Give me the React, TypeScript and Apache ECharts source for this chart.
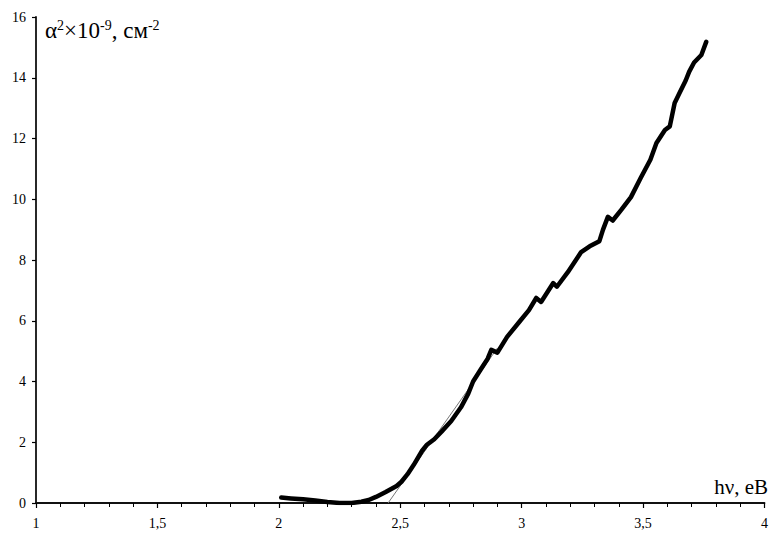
import React, { useEffect, useRef } from "react";
import * as echarts from "echarts";

const energy = [
  2.01, 2.05, 2.1, 2.15, 2.2, 2.25, 2.3, 2.34, 2.37, 2.4, 2.44, 2.485, 2.505, 2.53, 2.555, 2.59, 2.61,
  2.64, 2.67, 2.71, 2.75, 2.78, 2.8, 2.83, 2.86, 2.875, 2.9, 2.94, 2.99, 3.03, 3.06, 3.08, 3.13, 3.145,
  3.19, 3.245, 3.28, 3.32, 3.335, 3.355, 3.375, 3.41, 3.45, 3.49, 3.53, 3.555, 3.59, 3.61, 3.63, 3.65,
  3.675, 3.69, 3.71, 3.74, 3.76,
];
const alphaSq = [
  0.18, 0.15, 0.12, 0.08, 0.03, 0.0, 0.0, 0.04, 0.1, 0.2, 0.36, 0.56, 0.7, 0.95, 1.25, 1.72, 1.92,
  2.1, 2.35, 2.7, 3.15, 3.6, 4.0, 4.38, 4.75, 5.04, 4.95, 5.47, 5.96, 6.35, 6.75, 6.62, 7.24, 7.12,
  7.6, 8.26, 8.45, 8.62, 9.0, 9.42, 9.3, 9.65, 10.07, 10.7, 11.3, 11.85, 12.28, 12.4, 13.17, 13.5,
  13.9, 14.2, 14.5, 14.75, 15.18,
];
const tangentX = [2.45, 2.9];
const tangentY = [0, 5.1];

const SERIF = "Liberation Serif";

export default function App() {
  const ref = useRef<HTMLDivElement>(null);
  useEffect(() => {
    if (!ref.current) return;
    const chart = echarts.init(ref.current, null, { renderer: "svg" });
    const fmt = (v: number) => String(v).replace(".", ",");
    chart.setOption({
      animation: false,
      backgroundColor: "#ffffff",
      textStyle: { fontFamily: SERIF },
      grid: { left: 36, right: 4, top: 17, bottom: 30, containLabel: false },
      xAxis: {
        type: "value",
        min: 1,
        max: 4,
        interval: 0.5,
        axisLine: { onZero: false, lineStyle: { color: "#111", width: 1.8 } },
        axisTick: { show: true, inside: false, length: 5, lineStyle: { color: "#000", width: 1.2 } },
        minorTick: { show: true, splitNumber: 5, length: 4, lineStyle: { color: "#000", width: 1 } },
        splitLine: { show: false },
        axisLabel: { color: "#000", fontFamily: SERIF, fontSize: 14, margin: 13, formatter: fmt },
      },
      yAxis: {
        type: "value",
        min: 0,
        max: 16,
        interval: 2,
        axisLine: { show: true, lineStyle: { color: "#111", width: 1.8 } },
        axisTick: { show: true, inside: false, length: 4, lineStyle: { color: "#000", width: 1.2 } },
        splitLine: { show: false },
        axisLabel: { color: "#000", fontFamily: SERIF, fontSize: 14, margin: 10 },
      },
      series: [
        {
          type: "line",
          data: tangentX.map((x, i) => [x, tangentY[i]]),
          symbol: "none",
          lineStyle: { color: "#777", width: 1 },
          z: 1,
        },
        {
          type: "line",
          data: energy.map((x, i) => [x, alphaSq[i]]),
          symbol: "none",
          lineStyle: { color: "#000", width: 4.5, join: "round", cap: "round" },
          z: 2,
        },
      ],
      graphic: [
        {
          type: "text",
          left: 45,
          top: 18,
          style: {
            text: "{a|α}{s|2}{a|×10}{s|-9}{a|, см}{s|-2}",
            rich: {
              a: { fontFamily: SERIF, fontSize: 23, fill: "#000", verticalAlign: "bottom" },
              s: { fontFamily: SERIF, fontSize: 14, fill: "#000", verticalAlign: "bottom", padding: [0, 0, 10, 0] },
            },
          },
        },
        {
          type: "text",
          right: 3,
          top: 476,
          style: { text: "hν, eB", fontFamily: SERIF, fontSize: 21, fill: "#000" },
        },
      ],
    });
    return () => chart.dispose();
  }, []);
  return (
    <div
      ref={ref}
      style={{ position: "fixed", left: 0, top: 0, width: 771, height: 533, background: "#fff" }}
    />
  );
}
